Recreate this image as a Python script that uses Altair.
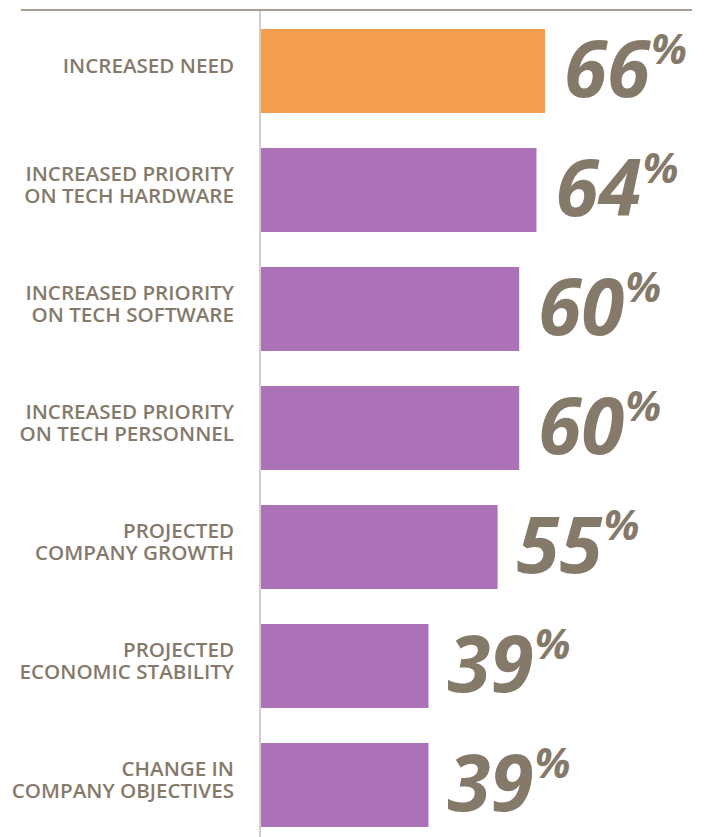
import altair as alt
import pandas as pd

categories = [
    "INCREASED NEED",
    "INCREASED PRIORITY\nON TECH HARDWARE",
    "INCREASED PRIORITY\nON TECH SOFTWARE",
    "INCREASED PRIORITY\nON TECH PERSONNEL",
    "PROJECTED\nCOMPANY GROWTH",
    "PROJECTED\nECONOMIC STABILITY",
    "CHANGE IN\nCOMPANY OBJECTIVES",
]
values = [66, 64, 60, 60, 55, 39, 39]
highlight = [True, False, False, False, False, False, False]

df = pd.DataFrame({"cat": categories, "value": values, "hl": highlight})
df["num"] = df["value"].astype(str)
df["multi"] = df["cat"].str.contains("\n")

TEXT = "#857a6a"
FONT = "Open Sans"

y_enc = alt.Y("cat:N", sort=categories, axis=None,
              scale=alt.Scale(range=[1.5, 834.5], paddingInner=0.294, paddingOuter=0.147))
x_scale = alt.Scale(domain=[0, 100], range=[0, 432], nice=False)

base = alt.Chart(df)

bars = base.mark_bar().encode(
    y=y_enc,
    x=alt.X("value:Q", scale=x_scale, axis=None),
    color=alt.Color("hl:N", scale=alt.Scale(domain=[True, False], range=["#f39d4f", "#ab72b8"]), legend=None),
)

nums = base.mark_text(align="left", baseline="alphabetic", dx=19, dy=26,
                      font=FONT, fontSize=78, fontWeight="bold", fontStyle="italic",
                      color=TEXT).encode(
    y=y_enc, x=alt.X("value:Q", scale=x_scale), text="num:N")

pct = base.mark_text(align="left", baseline="alphabetic", dx=106, dy=-7,
                     font=FONT, fontSize=42, fontWeight="bold", fontStyle="italic",
                     color=TEXT).encode(
    y=y_enc, x=alt.X("value:Q", scale=x_scale), text=alt.value("%"))

label_style = dict(align="right", baseline="middle", lineBreak="\n",
                   font=FONT, fontSize=20.6, fontWeight=600, lineHeight=22, color=TEXT)

labels_single = base.transform_filter("!datum.multi").mark_text(dy=-4, **label_style).encode(
    y=y_enc, x=alt.value(-26), text="cat:N")
labels_multi = base.transform_filter("datum.multi").mark_text(dy=-15, **label_style).encode(
    y=y_enc, x=alt.value(-26), text="cat:N")

vline = alt.Chart(df).mark_rule(color="#d3cec8", strokeWidth=1.5).encode(
    x=alt.value(0), y=alt.value(0), y2=alt.value(827))
topline = alt.Chart(df).mark_rule(color="#a89e94", strokeWidth=2).encode(
    x=alt.value(-239), x2=alt.value(432), y=alt.value(0))

chart = alt.layer(bars, vline, topline, nums, pct, labels_single, labels_multi).properties(
    width=432, height=827,
    autosize=alt.AutoSizeParams(type="none"),
    padding={"left": 260, "top": 10, "right": 17, "bottom": 0},
).configure_view(stroke=None)

chart.save("out.html", embed_options={"renderer": "svg", "actions": False})
